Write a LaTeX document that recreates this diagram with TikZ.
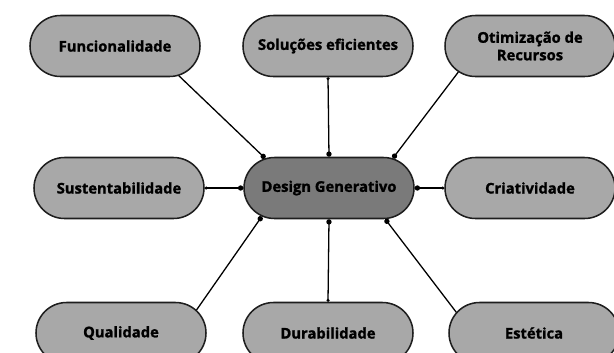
\documentclass[tikz,border=0pt]{standalone}
\usepackage{fontspec}
\setmainfont{Open Sans}[BoldFeatures={FakeBold=1.3}]
\usepackage{tikz}
\usetikzlibrary{shapes.misc}
\usetikzlibrary{arrows.meta}
\definecolor{boxgray}{RGB}{168,168,168}
\definecolor{maingray}{RGB}{122,122,122}
\definecolor{edgegray}{RGB}{30,30,30}

\begin{document}
\begin{tikzpicture}[x=0.03cm,y=-0.03cm,
	topic/.style={rounded rectangle, draw=edgegray, line width=1.3pt, fill=boxgray,
		minimum width=5.1cm, minimum height=1.83cm, align=center,
		inner xsep=0pt,
		font=\fontsize{12.6}{15}\selectfont\bfseries},
	hub/.style={topic, fill=maingray},
	link/.style={line width=1.1pt, -{Circle[length=4.5pt]}},
	flat/.style={link, {Circle[length=2.5pt]}-{Circle[length=4.5pt]}}]
	%% frame
	\clip (0,0) rectangle (614,352);
	\fill[white] (0,0) rectangle (614,352);
	%% centre
	\node[hub] (dg) at (329,188) {Design Generativo};
	%% top row
	\node[topic] (fun) at (115,46) {Funcionalidade};
	\node[topic] (sol) at (328,46) {Soluções eficientes};
	\node[topic] (oti) at (530,46) {Otimização de\\Recursos};
	%% middle row
	\node[topic] (sus) at (119,188) {Sustentabilidade};
	\node[topic] (cri) at (530,188) {Criatividade};
	%% bottom row
	\node[topic] (qua) at (121,333) {Qualidade};
	\node[topic] (dur) at (328,333) {Durabilidade};
	\node[topic] (est) at (534,333) {Estética};
	%% links
	\draw[link] (fun.-25) -- (dg.155);
	\draw[flat] (sol.south) -- (dg.north);
	\draw[link] (oti.200) -- (dg.25);
	\draw[flat] (sus.east) -- (dg.west);
	\draw[flat] (cri.west) -- (dg.east);
	\draw[link] (qua.17) -- (dg.203);
	\draw[flat] (dur.north) -- (dg.south);
	\draw[link] (est.165) -- (dg.331);
\end{tikzpicture}
\end{document}
